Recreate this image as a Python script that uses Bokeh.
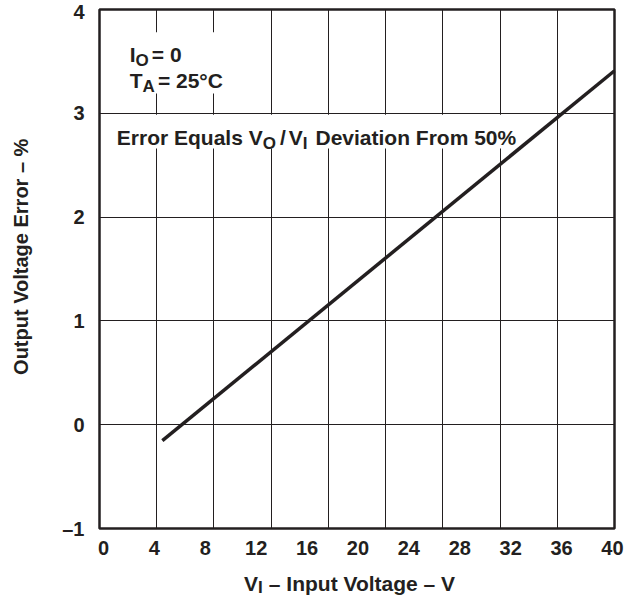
from math import pi
from bokeh.plotting import figure
from bokeh.layouts import column, row
from bokeh.models import Range1d, FixedTicker, Label, BoxAnnotation
from bokeh.embed import file_html
from bokeh.resources import INLINE

# ---- data ----
vi_volts = [4.63, 40.16]          # V_I (V)
error_pct = [-0.154, 3.41]        # output voltage error (%)
x_tick_values = [0, 4, 8, 12, 16, 20, 24, 28, 32, 36, 40]
y_tick_values = [-1, 0, 1, 2, 3, 4]
y_tick_text = {-1: "–1", 0: "0", 1: "1", 2: "2", 3: "3", 4: "4"}
y_grid_values = [0, 1, 2, 3]

INK = "#231f20"
FONT = "Liberation Sans"
X0, X1 = -0.31, 40.16
Y0, Y1 = -1, 4
N_VGRID = 9  # the vertical rulings split the frame into 9 equal cells

LEFT_W = 40
MAIN_W = 594
MAIN_H = 560
BOT_H = 40

p = figure(width=MAIN_W, height=MAIN_H, x_range=Range1d(X0, X1), y_range=Range1d(Y0, Y1),
           output_backend="svg", toolbar_location=None,
           min_border_left=59, min_border_right=20, min_border_top=9, min_border_bottom=32)
p.background_fill_color = "white"
p.border_fill_color = "white"
p.outline_line_color = INK
p.outline_line_width = 2.5
p.outline_line_alpha = 1

# axes
p.xaxis.ticker = FixedTicker(ticks=x_tick_values)
p.yaxis.ticker = FixedTicker(ticks=y_tick_values)
p.yaxis.major_label_overrides = y_tick_text
for ax in (p.xaxis, p.yaxis):
    ax.axis_line_color = None
    ax.major_tick_line_color = None
    ax.minor_tick_line_color = None
    ax.major_label_text_font = FONT
    ax.major_label_text_font_style = "bold"
    ax.major_label_text_font_size = "20px"
    ax.major_label_text_color = INK
p.xaxis.major_label_standoff = 6
p.yaxis.major_label_standoff = 9

# grid
grid_x = [X0 + i * (X1 - X0) / N_VGRID for i in range(1, N_VGRID)]
p.xgrid.ticker = FixedTicker(ticks=grid_x)
p.ygrid.ticker = FixedTicker(ticks=y_grid_values)
for g in (p.xgrid, p.ygrid):
    g.grid_line_color = INK
    g.grid_line_width = 1
    g.grid_line_alpha = 1

# white backgrounds behind the notes (break the rulings)
p.add_layout(BoxAnnotation(left=1.4, right=10.6, bottom=3.19, top=3.78,
                           fill_color="white", fill_alpha=1, line_color=None))
p.add_layout(BoxAnnotation(left=0.6, right=34.0, bottom=2.66, top=2.985,
                           fill_color="white", fill_alpha=1, line_color=None))

# the curve
p.line(vi_volts, error_pct, line_width=3.5, line_color=INK, level="overlay")

# Arial/Liberation Sans Bold advance widths (per 1000 em)
W = {' ': 278, 'E': 667, 'r': 389, 'o': 611, 'q': 611, 'u': 611, 'a': 556, 'l': 278,
     's': 556, 'V': 667, 'O': 778, '/': 278, 'I': 278, 'D': 722, 'e': 556, 'v': 556,
     'i': 278, 't': 333, 'n': 611, 'F': 611, 'm': 889, '5': 556, '0': 556, '%': 889,
     'T': 611, 'A': 722, '=': 584, '2': 556, '°': 400, 'C': 722, '–': 556, 'p': 611,
     'g': 611}


def text_w(s, size):
    return sum(W.get(c, 556) for c in s) * size / 1000.0


def rich(fig, x, y, segments, size=21, sub=17, drop=6):
    off = 0.0
    for seg in segments:
        if isinstance(seg, (int, float)):
            off += seg
            continue
        txt, is_sub = seg
        fs = sub if is_sub else size
        fig.add_layout(Label(x=x, y=y, x_offset=off, y_offset=-drop if is_sub else 0,
                             text=txt, text_font=FONT, text_font_style="bold",
                             text_font_size=f"{fs}px", text_color=INK,
                             text_align="left", text_baseline="alphabetic"))
        off += text_w(txt, fs)


rich(p, 2.07, 3.566, [("I", False), ("O", True), 3, ("= 0", False)])
rich(p, 2.07, 3.315, [("T", False), ("A", True), 3, ("= 25°C", False)])
rich(p, 1.05, 2.769, [("Error Equals V", False), ("O", True), 4, ("/", False), 3,
                      ("V", False), ("I", True), 8, ("Deviation From 50%", False)])

# left strip: y-axis title
pl = figure(width=LEFT_W, height=MAIN_H, x_range=Range1d(0, 1), y_range=Range1d(Y0, Y1),
            output_backend="svg", toolbar_location=None, x_axis_type=None, y_axis_type=None,
            min_border_left=0, min_border_right=0, min_border_top=9, min_border_bottom=32)
pl.outline_line_color = None
pl.grid.visible = False
pl.add_layout(Label(x=0.5, y=1.618, angle=pi / 2, text="Output Voltage Error – %",
                    text_font=FONT, text_font_style="bold", text_font_size="20px",
                    text_color=INK, text_align="center", text_baseline="middle"))

# bottom strip: x-axis title with subscript
pb = figure(width=LEFT_W + MAIN_W, height=BOT_H, x_range=Range1d(X0, X1), y_range=Range1d(0, 1),
            output_backend="svg", toolbar_location=None, x_axis_type=None, y_axis_type=None,
            min_border_left=LEFT_W + 59, min_border_right=20, min_border_top=0, min_border_bottom=0)
pb.outline_line_color = None
pb.grid.visible = False
rich(pb, 11.05, 0.42, [("V", False), ("I", True), 6, ("– Input Voltage – V", False)], drop=4)

layout = column(row(pl, p), pb)
open("out.html", "w").write(file_html(layout, INLINE))
